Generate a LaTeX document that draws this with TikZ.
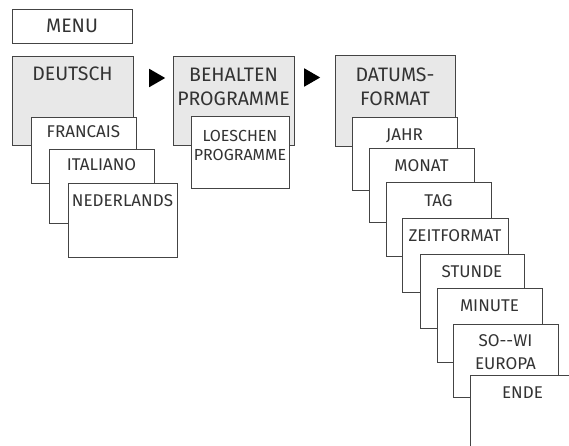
\documentclass[tikz,border=0pt]{standalone}
\usepackage{fontspec}
\setmainfont{Fira Sans}
\usetikzlibrary{shapes.geometric}
\definecolor{boxgray}{HTML}{E8E8E8}
\definecolor{linegray}{HTML}{444444}
\definecolor{textgray}{HTML}{333333}
\tikzset{
  box/.style={draw=linegray,line width=0.9pt,fill=white},
  graybox/.style={box,fill=boxgray},
  lbl/.style={anchor=base,inner sep=0pt,text=textgray,align=center,
    font=\fontsize{19.5}{24}\selectfont},
  sublbl/.style={lbl,font=\fontsize{17}{19}\selectfont},
  nexttri/.style={isosceles triangle,isosceles triangle apex angle=60,
    fill=black,inner sep=0pt,minimum height=16pt}
}

\begin{document}
\begin{tikzpicture}[x=1pt,y=-1pt]
			%%%%% START %%%%%
			\useasboundingbox (0,0) rectangle (569,446);
			\clip (0,0) rectangle (569,446);
			
			\draw[box] (12,9) rectangle (132,43);
			\node[lbl] (menu) at (72,32.5) {MENU};
			
			% Sprache
			\draw[graybox] (12,56) rectangle (133,145);
			\node[lbl] (deutsch) at (72.5,80.5) {DEUTSCH};
			\draw[box] (31,117) rectangle (136,183);
			\node[sublbl] (francais) at (83.5,138) {FRANCAIS};
			\draw[box] (49,149) rectangle (154,223);
			\node[sublbl] (italiano) at (101.5,171) {ITALIANO};
			\draw[box] (68,183) rectangle (177,257);
			\node[sublbl] (nederlands) at (122.5,206) {NEDERLANDS};
			
			\node[nexttri] (next1) at (154.5,78) {};
			
			% Programme (base = letzte Zeile)
			\draw[graybox] (173,56) rectangle (294,145);
			\node[lbl] (behalten) at (233.5,106) {BEHALTEN\\PROGRAMME};
			\draw[box] (191,116) rectangle (289,188);
			\node[sublbl,font=\fontsize{16}{19}\selectfont] (loeschen) at (240,160.5) {LOESCHEN\\PROGRAMME};
			
			\node[nexttri] (next2) at (309.5,77.5) {};
			
			% Datum und Zeit
			\draw[graybox] (335,55) rectangle (455,146);
			\node[lbl] (datums) at (395,105.5) {DATUMS-\\FORMAT};
			\draw[box] (352,117) rectangle (457,190);
			\node[sublbl] (jahr) at (404.5,140.5) {JAHR};
			\draw[box] (369,148) rectangle (474,222);
			\node[sublbl] (monat) at (421.5,171.5) {MONAT};
			\draw[box] (386,182.5) rectangle (491,256);
			\node[sublbl] (tag) at (438.5,206) {TAG};
			\draw[box] (402,218) rectangle (508,292);
			\node[sublbl] (zeitformat) at (455,241.5) {ZEITFORMAT};
			\draw[box] (420,254) rectangle (524,328);
			\node[sublbl] (stunde) at (472,277.5) {STUNDE};
			\draw[box] (437,288) rectangle (542,362);
			\node[sublbl] (minute) at (489.5,311.5) {MINUTE};
			\draw[box] (453,324) rectangle (558,397);
			\node[sublbl,font=\fontsize{17}{23}\selectfont] (sowi) at (505.5,369.5) {SO-{}-WI\\EUROPA};
			\draw[box] (470,375) rectangle (575,460);
			\node[sublbl] (ende) at (522.5,398.5) {ENDE};
			
			%%%%% END %%%%%
\end{tikzpicture}
\end{document}
